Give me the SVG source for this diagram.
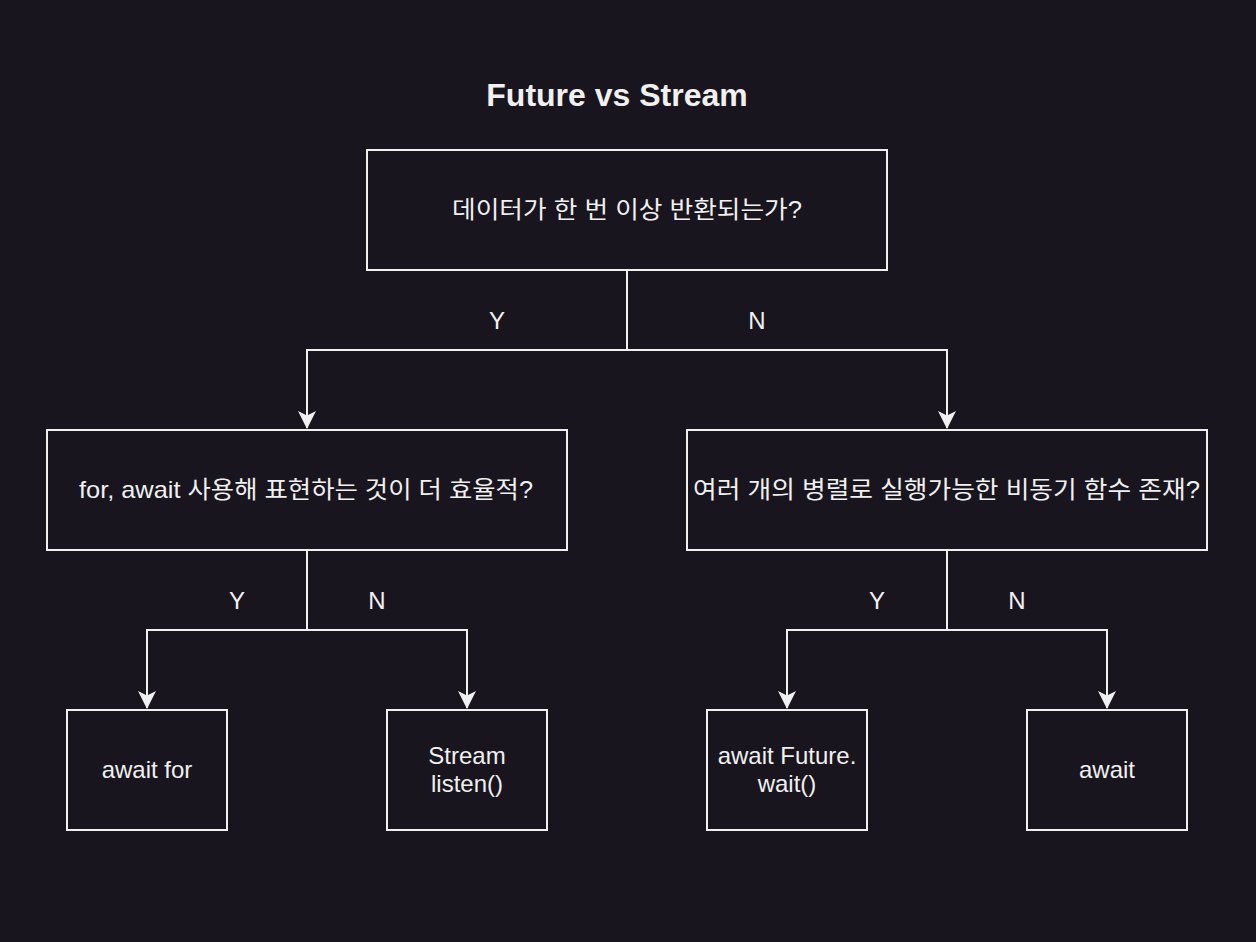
<svg xmlns="http://www.w3.org/2000/svg" width="1256" height="942" viewBox="0 0 1256 942">
<style>
.bg{fill:#18151e}
.box{fill:#18151e;stroke:#f0f0f0;stroke-width:2}
.t{font-family:"Liberation Sans","Noto Sans CJK KR",sans-serif;font-size:24px;fill:#f0f0f0;text-anchor:middle;dominant-baseline:central}
.title{font-family:"Liberation Sans",sans-serif;font-size:32px;font-weight:bold;fill:#f0f0f0;text-anchor:middle;dominant-baseline:central}
.edge{fill:none;stroke:#f0f0f0;stroke-width:2}
</style>
<defs>
<marker id="arr" markerUnits="userSpaceOnUse" viewBox="0 0 18 18" markerWidth="18" markerHeight="18" refX="17" refY="9" orient="auto">
<path d="M0,0 L18,9 L0,18 L4.5,9 Z" fill="#f0f0f0"/>
</marker>
</defs>
<rect class="bg" x="0" y="0" width="1256" height="942"/>
<text class="title" x="617" y="95">Future vs Stream</text>
<g id="connectors">
<path class="edge" d="M627,270 V350 H307 V428" marker-end="url(#arr)"/>
<path class="edge" d="M627,350 H947 V428" marker-end="url(#arr)"/>
<path class="edge" d="M307,550 V630 H147 V708" marker-end="url(#arr)"/>
<path class="edge" d="M307,630 H467 V708" marker-end="url(#arr)"/>
<path class="edge" d="M947,550 V630 H787 V708" marker-end="url(#arr)"/>
<path class="edge" d="M947,630 H1107 V708" marker-end="url(#arr)"/>
<text class="t" x="497" y="320">Y</text>
<text class="t" x="757" y="320">N</text>
<text class="t" x="237" y="600">Y</text>
<text class="t" x="377" y="600">N</text>
<text class="t" x="877" y="600">Y</text>
<text class="t" x="1017" y="600">N</text>
</g>
<g id="q1"><rect class="box" x="367" y="150" width="520" height="120"/><text class="t" x="627" y="209" textLength="350" lengthAdjust="spacingAndGlyphs">데이터가 한 번 이상 반환되는가?</text></g>
<g id="q2"><rect class="box" x="47" y="430" width="520" height="120"/><text class="t" x="306" y="489" textLength="454" lengthAdjust="spacingAndGlyphs">for, await 사용해 표현하는 것이 더 효율적?</text></g>
<g id="q3"><rect class="box" x="687" y="430" width="520" height="120"/><text class="t" x="946.5" y="489" textLength="507" lengthAdjust="spacingAndGlyphs">여러 개의 병렬로 실행가능한 비동기 함수 존재?</text></g>
<g id="a1"><rect class="box" x="67" y="710" width="160" height="120"/><text class="t" x="147" y="769">await for</text></g>
<g id="a2"><rect class="box" x="387" y="710" width="160" height="120"/><text class="t" x="467" y="755">Stream</text><text class="t" x="467" y="783">listen()</text></g>
<g id="a3"><rect class="box" x="707" y="710" width="160" height="120"/><text class="t" x="787" y="755">await Future.</text><text class="t" x="787" y="783">wait()</text></g>
<g id="a4"><rect class="box" x="1027" y="710" width="160" height="120"/><text class="t" x="1107" y="769">await</text></g>
</svg>
